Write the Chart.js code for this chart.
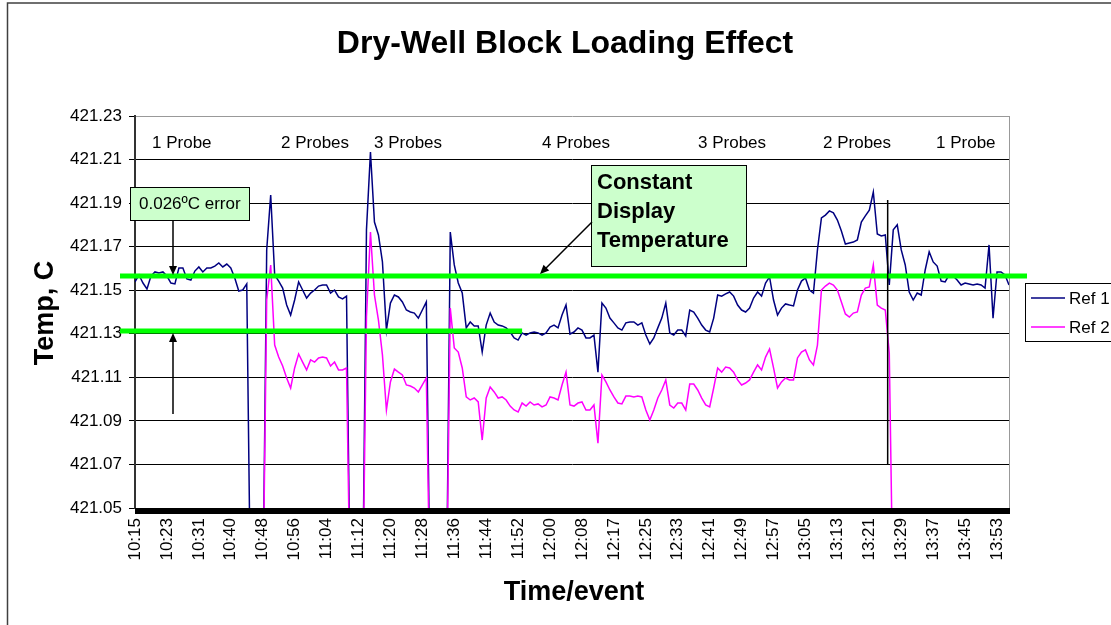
<!DOCTYPE html>
<html>
<head>
<meta charset="utf-8">
<title>Dry-Well Block Loading Effect</title>
<script src="https://cdn.jsdelivr.net/npm/chart.js@4.4.1/dist/chart.umd.min.js"></script>
<style>
  html, body { margin: 0; padding: 0; background: #fff; }
  #wrap { width: 1111px; height: 625px; position: relative; }
</style>
</head>
<body>
<div id="wrap"><canvas id="chart"></canvas></div>
<script>
/* ================================================
   Dry-Well Block Loading Effect
   ================================================ */

// x-axis tick labels, one every 8 samples
const tickLabels = ['10:15','10:23','10:31','10:40','10:48','10:56','11:04','11:12','11:20','11:28',
  '11:36','11:44','11:52','12:00','12:08','12:17','12:25','12:33','12:41','12:49',
  '12:57','13:05','13:13','13:21','13:29','13:37','13:45','13:53'];
const seriesNames = ['Ref 1', 'Ref 2'];
const probeLabels = ['1 Probe', '2 Probes', '3 Probes', '4 Probes', '3 Probes', '2 Probes', '1 Probe'];

// readings (°C); 421.00 = off-scale drop while a probe is inserted
const ref1 = [
  421.1538, 421.1570, 421.1533, 421.1506, 421.1565, 421.1584, 421.1579, 421.1584, 421.1565, 421.1533,
  421.1529, 421.1602, 421.1602, 421.1552, 421.1547, 421.1588, 421.1607, 421.1584, 421.1602, 421.1602,
  421.1611, 421.1625, 421.1607, 421.1620, 421.1602, 421.1556, 421.1496, 421.1501, 421.1529, 421.00,
  421.00, 421.00, 421.00, 421.1685, 421.1937, 421.1570, 421.1542, 421.1510, 421.1432, 421.1386,
  421.1455, 421.1538, 421.1501, 421.1464, 421.1487, 421.1501, 421.1519, 421.1524, 421.1524, 421.1487,
  421.1501, 421.1469, 421.1460, 421.1473, 421.00, 421.00, 421.00, 421.00, 421.1777, 421.2135,
  421.1813, 421.1754, 421.1630, 421.1317, 421.1441, 421.1478, 421.1469, 421.1446, 421.1409, 421.1400,
  421.1395, 421.1372, 421.1409, 421.1446, 421.00, 421.00, 421.00, 421.00, 421.00, 421.1767,
  421.1616, 421.1533, 421.1487, 421.1327, 421.1354, 421.1336, 421.1336, 421.1216, 421.1340, 421.1395,
  421.1354, 421.1340, 421.1336, 421.1327, 421.1308, 421.1281, 421.1271, 421.1304, 421.1294, 421.1304,
  421.1308, 421.1304, 421.1294, 421.1304, 421.1331, 421.1340, 421.1327, 421.1386, 421.1432, 421.1299,
  421.1308, 421.1327, 421.1317, 421.1281, 421.1281, 421.1294, 421.1124, 421.1441, 421.1418, 421.1372,
  421.1350, 421.1327, 421.1317, 421.1350, 421.1354, 421.1354, 421.1340, 421.1350, 421.1294, 421.1253,
  421.1281, 421.1327, 421.1372, 421.1441, 421.1304, 421.1294, 421.1317, 421.1317, 421.1290, 421.1409,
  421.1400, 421.1372, 421.1340, 421.1317, 421.1308, 421.1372, 421.1478, 421.1473, 421.1483, 421.1492,
  421.1473, 421.1432, 421.1409, 421.1400, 421.1418, 421.1464, 421.1492, 421.1473, 421.1533, 421.1561,
  421.1455, 421.1386, 421.1418, 421.1437, 421.1432, 421.1428, 421.1501, 421.1542, 421.1556, 421.1501,
  421.1487, 421.1685, 421.1832, 421.1845, 421.1864, 421.1855, 421.1822, 421.1772, 421.1712, 421.1717,
  421.1721, 421.1731, 421.1813, 421.1841, 421.1868, 421.1951, 421.1758, 421.1749, 421.1754, 421.1524,
  421.1777, 421.1800, 421.1685, 421.1616, 421.1492, 421.1455, 421.1487, 421.1478, 421.1593, 421.1676,
  421.1630, 421.1611, 421.1542, 421.1538, 421.1570, 421.1565, 421.1547, 421.1524, 421.1533, 421.1529,
  421.1524, 421.1529, 421.1524, 421.1510, 421.1708, 421.1372, 421.1584, 421.1584, 421.1570, 421.1524
];

const ref2 = [
  null, null, null, null, null, null, null, null, null, null,
  null, null, null, null, null, null, null, null, null, null,
  null, null, null, null, null, null, null, null, null, null,
  null, null, 421.00, 421.1455, 421.1616, 421.1248, 421.1193, 421.1152, 421.1097, 421.1051,
  421.1143, 421.1207, 421.1170, 421.1134, 421.1180, 421.1170, 421.1189, 421.1193, 421.1189, 421.1152,
  421.1170, 421.1134, 421.1134, 421.1143, 421.00, 421.00, 421.00, 421.00, 421.1377, 421.1767,
  421.1478, 421.1363, 421.1203, 421.0950, 421.1079, 421.1138, 421.1124, 421.1111, 421.1065, 421.1060,
  421.1051, 421.1033, 421.1065, 421.1097, 421.00, 421.00, 421.00, 421.00, 421.00, 421.1418,
  421.1235, 421.1216, 421.1143, 421.1010, 421.0996, 421.1005, 421.0987, 421.0812, 421.1005, 421.1056,
  421.1033, 421.1005, 421.1010, 421.0996, 421.0968, 421.0950, 421.0941, 421.0982, 421.0968, 421.0987,
  421.0973, 421.0978, 421.0964, 421.0973, 421.1010, 421.1005, 421.0996, 421.1065, 421.1124, 421.0973,
  421.0968, 421.0982, 421.0987, 421.0950, 421.0950, 421.0973, 421.0798, 421.1111, 421.1079, 421.1042,
  421.1010, 421.0982, 421.0978, 421.1014, 421.1014, 421.1010, 421.1014, 421.1010, 421.0950, 421.0904,
  421.0950, 421.1005, 421.1042, 421.1088, 421.0973, 421.0959, 421.0982, 421.0982, 421.0950, 421.1069,
  421.1069, 421.1042, 421.1005, 421.0973, 421.0964, 421.1051, 421.1143, 421.1124, 421.1147, 421.1143,
  421.1124, 421.1088, 421.1065, 421.1074, 421.1088, 421.1124, 421.1157, 421.1134, 421.1193, 421.1230,
  421.1143, 421.1051, 421.1079, 421.1097, 421.1088, 421.1088, 421.1189, 421.1216, 421.1226, 421.1180,
  421.1157, 421.1248, 421.1501, 421.1519, 421.1533, 421.1524, 421.1501, 421.1446, 421.1391, 421.1377,
  421.1395, 421.1400, 421.1478, 421.1510, 421.1515, 421.1616, 421.1432, 421.1418, 421.1409, 421.1212,
  421.00, null, null, null, null, null, null, null, null, null,
  null, null, null, null, null, null, null, null, null, null,
  null, null, null, null, null, null, null, null, null, null
];

const constantDisplay = 421.1565;
const errorLevel      = 421.1313;

const FONT = "'Liberation Sans', Arial, sans-serif";
const NAVY = '#000080';
const MAGENTA = '#FF00FF';
const GREEN = '#00FF00';

function arrow(ctx, x1, y1, x2, y2) {
  const a = Math.atan2(y2 - y1, x2 - x1);
  const len = 9, w = 4;
  ctx.beginPath();
  ctx.moveTo(x1, y1);
  ctx.lineTo(x2 - Math.cos(a) * len * 0.8, y2 - Math.sin(a) * len * 0.8);
  ctx.stroke();
  ctx.beginPath();
  ctx.moveTo(x2, y2);
  ctx.lineTo(x2 - Math.cos(a) * len - Math.sin(a) * w, y2 - Math.sin(a) * len + Math.cos(a) * w);
  ctx.lineTo(x2 - Math.cos(a) * len + Math.sin(a) * w, y2 - Math.sin(a) * len - Math.cos(a) * w);
  ctx.closePath();
  ctx.fill();
}

const decorations = {
  id: 'decorations',
  beforeDatasetsDraw(chart) {
    const { ctx, chartArea: a } = chart;
    ctx.save();
    ctx.strokeStyle = '#999';
    ctx.lineWidth = 1;
    ctx.beginPath();
    ctx.moveTo(a.right + 0.5, a.top);
    ctx.lineTo(a.right + 0.5, a.bottom);
    ctx.stroke();
    ctx.restore();
  },
  afterDatasetsDraw(chart) {
    const { ctx, chartArea: a, scales: { x, y } } = chart;
    ctx.save();

    // thick axis bar
    ctx.fillStyle = '#000';
    ctx.fillRect(a.left, a.bottom, a.right - a.left + 1, 6);

    // green reference lines
    ctx.strokeStyle = GREEN;
    ctx.lineWidth = 5;
    ctx.beginPath();
    ctx.moveTo(a.left - 15, y.getPixelForValue(constantDisplay));
    ctx.lineTo(a.right + 18, y.getPixelForValue(constantDisplay));
    ctx.moveTo(a.left - 15, y.getPixelForValue(errorLevel));
    ctx.lineTo(x.getPixelForValue(97), y.getPixelForValue(errorLevel));
    ctx.stroke();

    // vertical marker
    ctx.strokeStyle = '#000';
    ctx.lineWidth = 1.5;
    ctx.beginPath();
    ctx.moveTo(x.getPixelForValue(188.6), y.getPixelForValue(421.1914));
    ctx.lineTo(x.getPixelForValue(188.6), y.getPixelForValue(421.0697));
    ctx.stroke();

    // probe count labels
    ctx.fillStyle = '#000';
    ctx.font = '17px ' + FONT;
    ctx.textAlign = 'left';
    ctx.textBaseline = 'alphabetic';
    const probeX = [152, 281, 374, 542, 698, 823, 936];
    probeLabels.forEach((t, i) => ctx.fillText(t, probeX[i], 148));

    // error box + arrows
    ctx.fillStyle = '#CCFFCC';
    ctx.fillRect(130.5, 187.5, 119, 33);
    ctx.strokeStyle = '#000';
    ctx.lineWidth = 1;
    ctx.strokeRect(130.5, 187.5, 119, 33);
    ctx.fillStyle = '#000';
    ctx.fillText('0.026ºC error', 139, 209);
    ctx.lineWidth = 1.5;
    arrow(ctx, 173, 221, 173, 275);
    arrow(ctx, 173, 414, 173, 333);

    // constant display box + arrow
    ctx.fillStyle = '#CCFFCC';
    ctx.fillRect(591.5, 165.5, 155, 101);
    ctx.lineWidth = 1;
    ctx.strokeRect(591.5, 165.5, 155, 101);
    ctx.fillStyle = '#000';
    ctx.font = 'bold 22px ' + FONT;
    ctx.fillText('Constant', 597, 189);
    ctx.fillText('Display', 597, 218);
    ctx.fillText('Temperature', 597, 247);
    ctx.lineWidth = 1.5;
    arrow(ctx, 592, 222, 540, 274);

    ctx.restore();
  },
  afterDraw(chart) {
    const { ctx } = chart;
    ctx.save();

    // outer frame
    ctx.strokeStyle = '#404040';
    ctx.lineWidth = 1.5;
    ctx.strokeRect(7.5, 3, 1200, 800);

    // titles
    ctx.fillStyle = '#000';
    ctx.textAlign = 'center';
    ctx.textBaseline = 'alphabetic';
    ctx.font = 'bold 32px ' + FONT;
    ctx.fillText('Dry-Well Block Loading Effect', 565, 53);
    ctx.font = 'bold 27px ' + FONT;
    ctx.fillText('Time/event', 574, 600);
    ctx.save();
    ctx.translate(53, 313);
    ctx.rotate(-Math.PI / 2);
    ctx.fillText('Temp, C', 0, 0);
    ctx.restore();

    // legend
    ctx.strokeStyle = '#000';
    ctx.lineWidth = 1;
    ctx.strokeRect(1025.5, 283.5, 120, 58);
    ctx.font = '17px ' + FONT;
    ctx.textAlign = 'left';
    ctx.textBaseline = 'middle';
    [[NAVY, 298], [MAGENTA, 327]].forEach(([c, ly], i) => {
      ctx.strokeStyle = c;
      ctx.lineWidth = 1.5;
      ctx.beginPath();
      ctx.moveTo(1031, ly);
      ctx.lineTo(1065, ly);
      ctx.stroke();
      ctx.fillStyle = '#000';
      ctx.fillText(seriesNames[i], 1069, ly + 1);
    });
    ctx.restore();
  }
};

Chart.defaults.font.family = FONT;
Chart.defaults.color = '#000';

const ctx = document.getElementById('chart').getContext('2d');

new Chart(ctx, {
  type: 'line',
  data: {
    datasets: [
      {
        label: seriesNames[0],
        data: ref1.map((v, i) => ({ x: i, y: v })),
        borderColor: NAVY,
        borderWidth: 1.5,
        pointRadius: 0,
        tension: 0,
        order: 2,
      },
      {
        label: seriesNames[1],
        data: ref2.map((v, i) => ({ x: i, y: v })),
        borderColor: MAGENTA,
        borderWidth: 1.5,
        pointRadius: 0,
        tension: 0,
        spanGaps: false,
        order: 1,
      },
    ],
  },
  options: {
    responsive: true,
    maintainAspectRatio: false,
    animation: false,
    layout: { padding: { left: 0, top: 116, right: 102, bottom: 0 } },
    plugins: {
      legend: { display: false },
      title: { display: false },
      tooltip: { enabled: false },
    },
    scales: {
      x: {
        type: 'linear',
        min: 0,
        max: ref1.length - 1,
        grid: { display: false, drawTicks: false },
        border: { display: false },
        ticks: {
          stepSize: 8,
          includeBounds: false,
          autoSkip: false,
          minRotation: 90,
          maxRotation: 90,
          padding: 10,
          font: { size: 17 },
          callback: v => tickLabels[v / 8] ?? '',
        },
        afterFit: s => { s.height = 117; },
      },
      y: {
        min: 421.05,
        max: 421.23,
        ticks: {
          stepSize: 0.02,
          padding: 7,
          font: { size: 17 },
          callback: v => v.toFixed(2),
        },
        grid: {
          color: c => (c.tick && Math.abs(c.tick.value - 421.23) < 1e-6) ? '#999' : '#000',
          tickColor: '#000',
          tickLength: 6,
          lineWidth: 1,
        },
        border: { color: '#333', width: 2 },
        afterFit: s => { s.width = 135; },
      },
    },
  },
  plugins: [decorations],
});
</script>
</body>
</html>
